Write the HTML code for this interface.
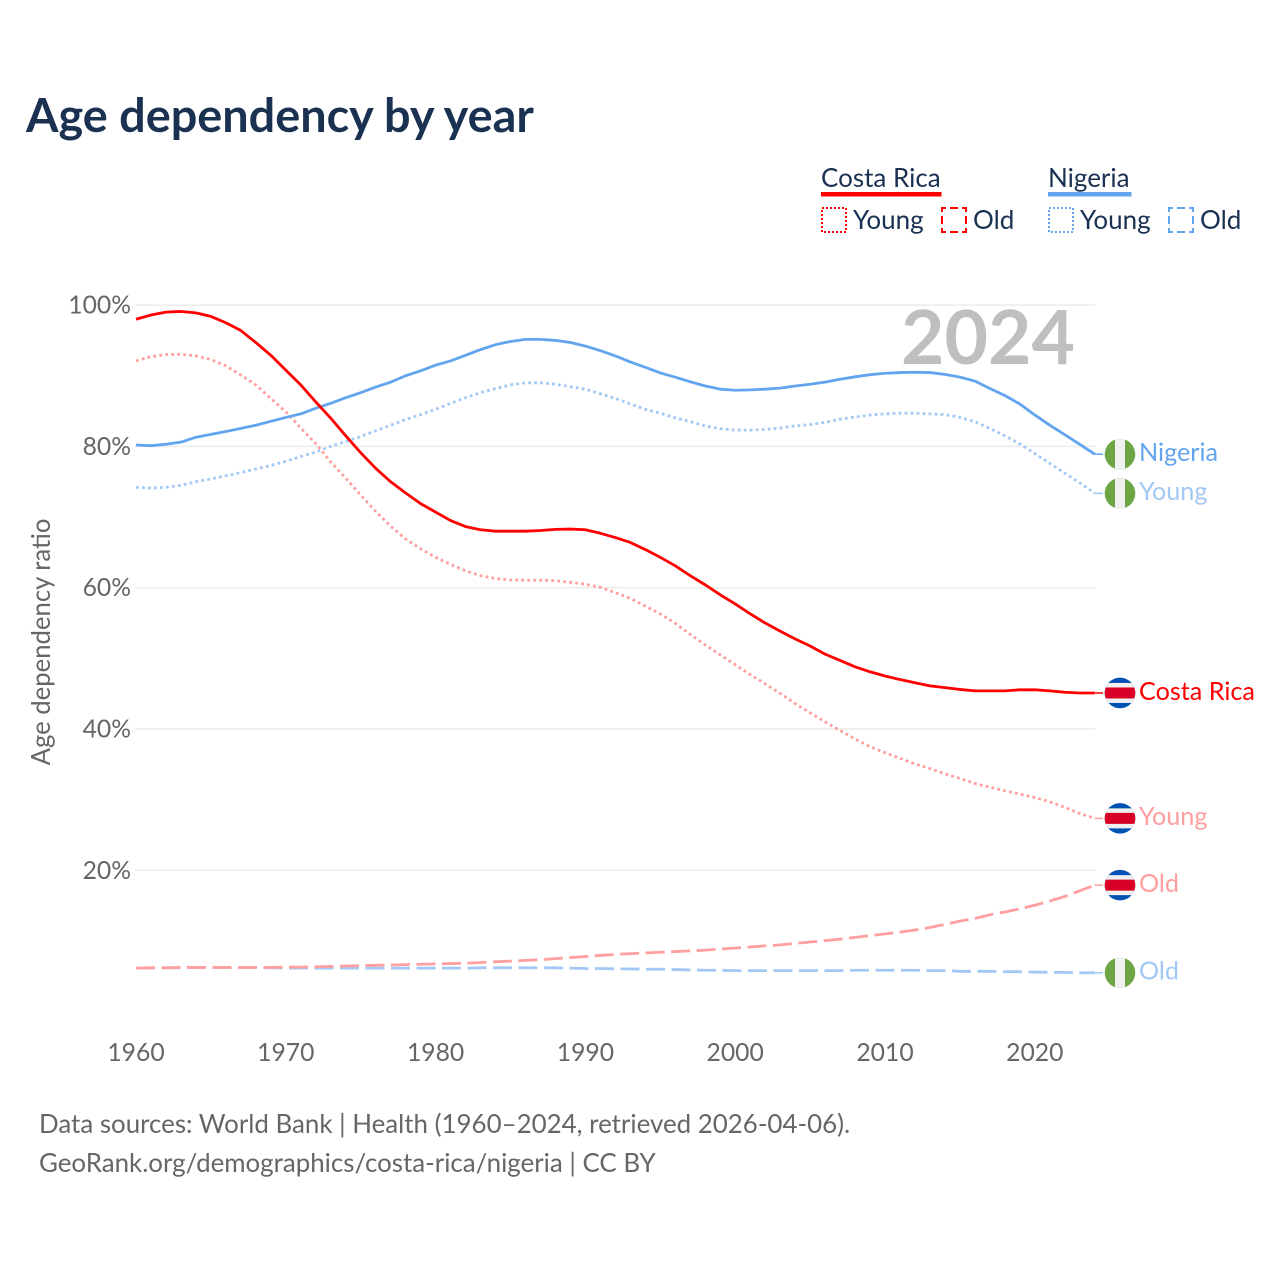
<!DOCTYPE html>
<html lang="en">
<head>
<meta charset="utf-8">
<title>Age dependency by year</title>
<style>
html,body{margin:0;padding:0;background:#fff;}
#chart{display:block;width:1280px;height:1280px;font-family:"Lato","Carlito","Liberation Sans",sans-serif;}
</style>
</head>
<body>
<svg id="chart" xmlns="http://www.w3.org/2000/svg" width="1280" height="1280" viewBox="0 0 1280 1280">
  <text x="26" y="132" font-size="46.8" font-weight="700" fill="#1a3152">Age dependency by year</text>

  <g>
    <g>
      <text x="821" y="187" font-size="26" fill="#1a3152">Costa Rica</text>
      <rect x="821" y="192" width="120.500" height="4.500" fill="#ff0000"/>
      <rect x="822" y="208" width="24" height="24" fill="none" stroke="#ff0000" stroke-width="2" stroke-dasharray="2 2"/>
      <text x="853" y="229" font-size="26" fill="#1a3152">Young</text>
      <rect x="942" y="208" width="24" height="24" fill="none" stroke="#ff0000" stroke-width="2" stroke-dasharray="8 4" stroke-dashoffset="4"/>
      <text x="973" y="229" font-size="26" fill="#1a3152">Old</text>
    </g>
    <g>
      <text x="1048" y="187" font-size="26" fill="#1a3152">Nigeria</text>
      <rect x="1048" y="192" width="83.500" height="4.500" fill="#62a5ee"/>
      <rect x="1049" y="208" width="24" height="24" fill="none" stroke="#62a5ee" stroke-width="2" stroke-dasharray="2 2"/>
      <text x="1080" y="229" font-size="26" fill="#1a3152">Young</text>
      <rect x="1169" y="208" width="24" height="24" fill="none" stroke="#62a5ee" stroke-width="2" stroke-dasharray="8 4" stroke-dashoffset="4"/>
      <text x="1200" y="229" font-size="26" fill="#1a3152">Old</text>
    </g>
  </g>

  <g id="grid-layer"></g>
  <g id="y-tick-layer"></g>
  <g id="x-tick-layer"></g>
  <text x="0" y="0" transform="translate(50,642) rotate(-90)" text-anchor="middle" font-size="25.7" fill="#666666">Age dependency ratio</text>

  <text x="1075" y="364" text-anchor="end" font-size="75" font-weight="700" fill="#bfbfbf">2024</text>

  <g id="series-layer"></g>
  <g id="end-label-layer"></g>

  <text x="39" y="1133" font-size="25.9" fill="#666666">Data sources: World Bank | Health (1960–2024, retrieved 2026-04-06).</text>
  <text x="39" y="1172" font-size="25.9" fill="#666666">GeoRank.org/demographics/costa-rica/nigeria | CC BY</text>
</svg>

<script>
const startYear = 1960;
const xTickYears = [1960, 1970, 1980, 1990, 2000, 2010, 2020];
const yTickValues = [20, 40, 60, 80, 100];
const yTickLabels = ['20%', '40%', '60%', '80%', '100%'];

const costaRicaTotal = [98.0,98.6,99.0,99.1,98.9,98.4,97.5,96.4,94.7,92.9,90.8,88.7,86.3,84.0,81.5,79.1,76.9,75.0,73.4,71.9,70.7,69.5,68.65,68.2,68.0,68.0,68.0,68.1,68.25,68.3,68.2,67.7,67.1,66.4,65.4,64.3,63.1,61.7,60.4,59.0,57.7,56.3,55.0,53.85,52.75,51.75,50.6,49.7,48.8,48.1,47.5,47.0,46.55,46.1,45.85,45.6,45.4,45.4,45.4,45.55,45.55,45.4,45.2,45.1,45.1];
const nigeriaTotal = [80.2,80.1,80.3,80.6,81.3,81.7,82.1,82.55,83.0,83.55,84.1,84.6,85.4,86.1,86.9,87.6,88.4,89.1,90.0,90.7,91.5,92.1,92.9,93.7,94.4,94.85,95.15,95.15,95.0,94.7,94.2,93.55,92.8,91.95,91.2,90.4,89.8,89.15,88.55,88.1,87.95,88.0,88.1,88.25,88.55,88.8,89.1,89.5,89.85,90.15,90.35,90.45,90.5,90.45,90.2,89.8,89.25,88.2,87.2,86.0,84.45,83.0,81.65,80.3,78.9];
const costaRicaYoung = [92.1,92.7,93.0,93.03,92.8,92.3,91.4,90.1,88.7,86.8,84.9,82.6,80.4,77.8,75.5,73.1,70.8,68.7,66.9,65.5,64.3,63.3,62.4,61.7,61.3,61.1,61.05,61.05,61.0,60.75,60.5,60.05,59.3,58.5,57.4,56.3,54.95,53.4,51.9,50.5,49.1,47.7,46.4,45.05,43.6,42.3,41.0,39.8,38.6,37.5,36.65,35.85,35.05,34.4,33.65,33.0,32.3,31.75,31.25,30.8,30.3,29.7,28.9,28.05,27.35];
const nigeriaYoung = [74.2,74.1,74.2,74.5,75.0,75.4,75.85,76.3,76.8,77.3,77.9,78.55,79.2,80.0,80.7,81.4,82.2,83.0,83.8,84.5,85.25,86.1,86.9,87.6,88.2,88.7,89.0,89.0,88.8,88.45,88.1,87.45,86.8,86.0,85.25,84.7,84.05,83.5,82.9,82.5,82.3,82.3,82.4,82.6,82.9,83.1,83.4,83.85,84.15,84.45,84.6,84.7,84.7,84.6,84.5,84.1,83.5,82.55,81.5,80.35,79.0,77.6,76.2,74.85,73.35];
const costaRicaOld = [6.15,6.2,6.2,6.25,6.25,6.25,6.25,6.25,6.25,6.25,6.3,6.3,6.35,6.4,6.45,6.5,6.55,6.6,6.65,6.7,6.75,6.8,6.85,6.95,7.05,7.15,7.25,7.35,7.5,7.65,7.8,7.95,8.1,8.2,8.3,8.4,8.5,8.6,8.7,8.85,9.0,9.15,9.3,9.45,9.65,9.85,10.05,10.25,10.5,10.75,11.0,11.25,11.55,11.9,12.35,12.8,13.2,13.7,14.1,14.55,15.05,15.65,16.3,17.1,17.9];
const nigeriaOld = [6.15,6.15,6.2,6.2,6.25,6.25,6.25,6.25,6.25,6.2,6.15,6.15,6.15,6.15,6.15,6.15,6.15,6.15,6.15,6.15,6.15,6.15,6.15,6.2,6.2,6.2,6.2,6.2,6.2,6.15,6.1,6.1,6.05,6.05,6.0,6.0,5.95,5.9,5.85,5.85,5.8,5.8,5.8,5.8,5.8,5.8,5.8,5.8,5.85,5.85,5.85,5.85,5.85,5.8,5.8,5.7,5.7,5.7,5.65,5.65,5.6,5.55,5.55,5.5,5.5];

const SVG_NS = 'http://www.w3.org/2000/svg';
function xScale(year) { return 136 + (year - 1960) * 14.98; }
function yScale(value) { return 1011.6 - value * 7.065; }

function make(tag, attrs, parent) {
  const el = document.createElementNS(SVG_NS, tag);
  for (const key in attrs) el.setAttribute(key, attrs[key]);
  parent.appendChild(el);
  return el;
}

const gridLayer = document.getElementById('grid-layer');
const yTickLayer = document.getElementById('y-tick-layer');
const xTickLayer = document.getElementById('x-tick-layer');
const seriesLayer = document.getElementById('series-layer');
const endLabelLayer = document.getElementById('end-label-layer');

yTickValues.forEach(function (value, i) {
  const line = make('line', { x1: 135, x2: 1095, y1: yScale(value), y2: yScale(value), stroke: '#ececec', 'stroke-width': 1.5 }, gridLayer);
  
  
  const label = make('text', { x: 131, y: yScale(value) + 8.5, 'text-anchor': 'end', 'font-size': 24.7, fill: '#666666' }, yTickLayer);
  label.textContent = yTickLabels[i];
  
  
});

xTickYears.forEach(function (year) {
  const label = make('text', { x: xScale(year), y: 1061, 'text-anchor': 'middle', 'font-size': 24.7, fill: '#666666' }, xTickLayer);
  label.textContent = String(year);
  
  
});

function drawSeries(name, values, color, dash) {
  let d = '';
  values.forEach(function (value, i) {
    d += (i ? 'L' : 'M') + xScale(startYear + i).toFixed(2) + ' ' + yScale(value).toFixed(2);
  });
  const attrs = { d: d, fill: 'none', stroke: color, 'stroke-width': 2.8, 'stroke-linejoin': 'round' };
  if (dash) attrs['stroke-dasharray'] = dash;
  const path = make('path', attrs, seriesLayer);
  
  
}

function drawFlag(name, country, value) {
  const cx = 1120;
  const cy = yScale(value);
  const group = make('g', {}, endLabelLayer);
  
  
  const clip = make('clipPath', { id: 'clip-' + name }, group);
  make('circle', { cx: cx, cy: cy, r: 15.3 }, clip);
  const inner = make('g', { 'clip-path': 'url(#clip-' + name + ')' }, group);
  if (country === 'nigeria') {
    make('rect', { x: cx - 16, y: cy - 16, width: 32, height: 32, fill: '#6da544' }, inner);
    make('rect', { x: cx - 5, y: cy - 16, width: 10, height: 32, fill: '#f0f0f0' }, inner);
  } else {
    make('rect', { x: cx - 16, y: cy - 16, width: 32, height: 32, fill: '#0052b4' }, inner);
    make('rect', { x: cx - 16, y: cy - 10, width: 32, height: 20, fill: '#f0f0f0' }, inner);
    make('rect', { x: cx - 16, y: cy - 5.5, width: 32, height: 11, fill: '#d80027' }, inner);
  }
}

function drawEndLabel(name, country, text, value, color, dy) {
  const stub = make('line', { x1: xScale(2024), x2: 1103, y1: yScale(value), y2: yScale(value), stroke: color, 'stroke-width': 1.5 }, endLabelLayer);
  
  
  drawFlag(name, country, value);
  const label = make('text', { x: 1139, y: yScale(value) + dy, 'font-size': 25.2, fill: color }, endLabelLayer);
  label.textContent = text;
  
  
}

const lastIndex = costaRicaTotal.length - 1;
const RED = '#ff0000', RED_LIGHT = '#ff9f9f', BLUE = '#62a5ee', BLUE_LIGHT = '#a2c9f5';
const DOT = '2.8 3.2', DASH = '19 6.5';

drawSeries('nigeria-old', nigeriaOld, BLUE_LIGHT, DASH);
drawSeries('costa-rica-old', costaRicaOld, RED_LIGHT, DASH);
drawSeries('nigeria-young', nigeriaYoung, BLUE_LIGHT, DOT);
drawSeries('costa-rica-young', costaRicaYoung, RED_LIGHT, DOT);
drawSeries('nigeria-total', nigeriaTotal, BLUE, null);
drawSeries('costa-rica-total', costaRicaTotal, RED, null);

drawEndLabel('nigeria-total', 'nigeria', 'Nigeria', nigeriaTotal[lastIndex], BLUE, 7);
drawEndLabel('nigeria-young', 'nigeria', 'Young', nigeriaYoung[lastIndex], BLUE_LIGHT, 6.5);
drawEndLabel('costa-rica-total', 'costa-rica', 'Costa Rica', costaRicaTotal[lastIndex], RED, 7);
drawEndLabel('costa-rica-young', 'costa-rica', 'Young', costaRicaYoung[lastIndex], RED_LIGHT, 6.5);
drawEndLabel('costa-rica-old', 'costa-rica', 'Old', costaRicaOld[lastIndex], RED_LIGHT, 7);
drawEndLabel('nigeria-old', 'nigeria', 'Old', nigeriaOld[lastIndex], BLUE_LIGHT, 7);
</script>
</body>
</html>
